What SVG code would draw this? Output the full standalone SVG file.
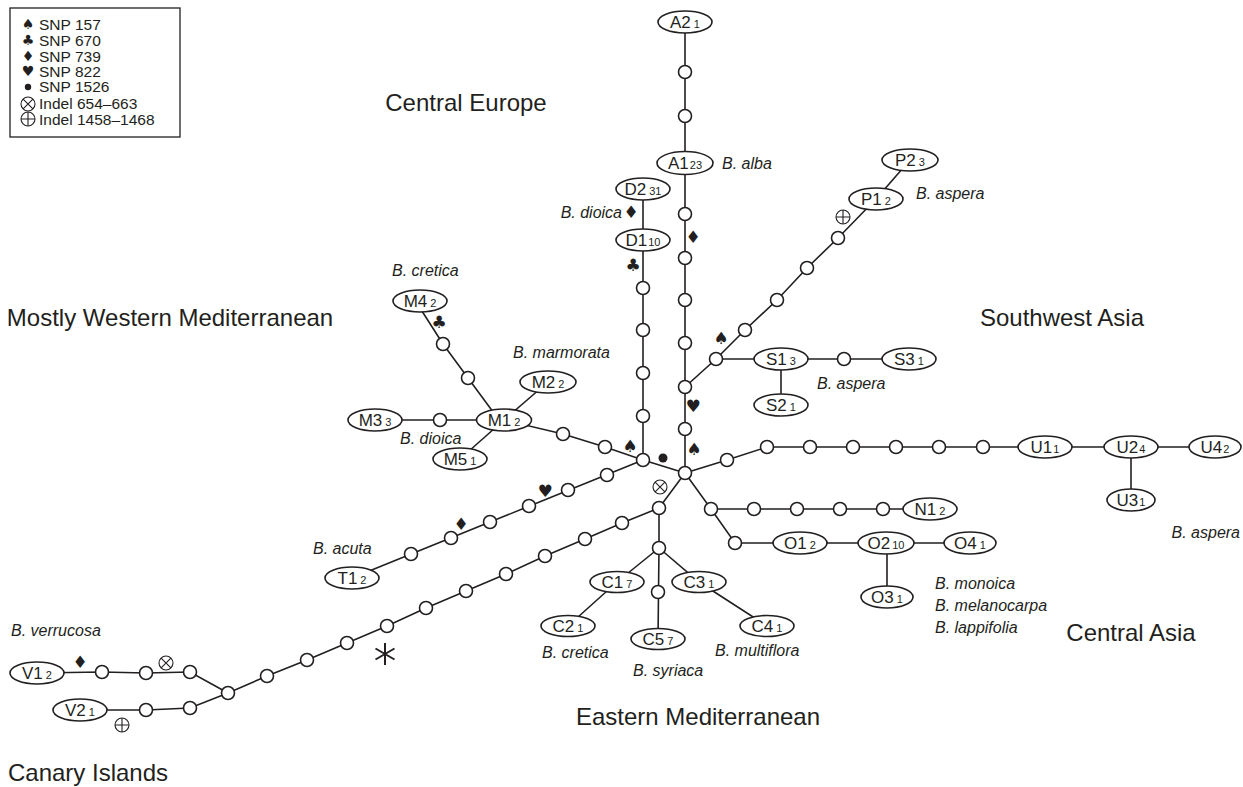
<svg xmlns="http://www.w3.org/2000/svg" xmlns:xlink="http://www.w3.org/1999/xlink" width="1243" height="787" viewBox="0 0 1243 787">
<style>
.ln{stroke:#231f20;stroke-width:1.6;fill:none}
.el{fill:#fff;stroke:#231f20;stroke-width:1.6}
.c{fill:#fff;stroke:#231f20;stroke-width:1.6}
.lbl{font-family:"Liberation Sans",Arial,sans-serif;font-size:17px;fill:#231f20;text-anchor:middle}
.cnt{font-size:11px}
.sp{font-family:"Liberation Sans",Arial,sans-serif;font-style:italic;font-size:16px;fill:#231f20}
.reg{font-family:"Liberation Sans",Arial,sans-serif;font-size:24px;fill:#231f20;text-anchor:middle}
.sym{font-family:"DejaVu Sans",sans-serif;font-size:17px;fill:#231f20;text-anchor:middle}
.lsym{font-family:"DejaVu Sans",sans-serif;font-size:14px;fill:#231f20;text-anchor:middle}
.leg{font-family:"Liberation Sans",Arial,sans-serif;font-size:15.5px;fill:#231f20}
.ind{fill:#fff;stroke:#231f20;stroke-width:1.1}
.ast{stroke:#231f20;stroke-width:2;fill:none}
</style>
<defs>
<circle id="sc" r="6.5" class="c"/>
<g id="ot"><circle r="7" class="ind"/><path d="M-4.9,-4.9L4.9,4.9M-4.9,4.9L4.9,-4.9" class="ind"/></g>
<g id="op"><circle r="7" class="ind"/><path d="M-7,0H7M0,-7V7" class="ind"/></g>
</defs>
<rect width="1243" height="787" fill="#fff"/>

<g id="legend">
<rect x="10" y="8" width="170" height="129" fill="#fff" stroke="#231f20" stroke-width="1.3"/>
<text class="lsym" x="28" y="29">♠</text>
<text class="lsym" x="28" y="45">♣</text>
<text class="lsym" x="28" y="61">♦</text>
<text class="lsym" x="28" y="76">♥</text>
<circle cx="28" cy="87" r="3.2" fill="#231f20"/>
<use xlink:href="#ot" x="28" y="104"/>
<use xlink:href="#op" x="28" y="119"/>
<text class="leg" x="39" y="30">SNP 157</text>
<text class="leg" x="39" y="46">SNP 670</text>
<text class="leg" x="39" y="62">SNP 739</text>
<text class="leg" x="39" y="77">SNP 822</text>
<text class="leg" x="39" y="92">SNP 1526</text>
<text class="leg" x="39" y="109">Indel 654–663</text>
<text class="leg" x="39" y="125">Indel 1458–1468</text>
</g>

<g id="regions">
<text class="reg" x="466" y="111">Central Europe</text>
<text class="reg" x="170" y="326">Mostly Western Mediterranean</text>
<text class="reg" x="1062" y="326">Southwest Asia</text>
<text class="reg" x="1131" y="641">Central Asia</text>
<text class="reg" x="698" y="725">Eastern Mediterranean</text>
<text class="reg" x="88" y="781">Canary Islands</text>
</g>

<g id="connectors">
<polyline class="ln" points="685,22 685,473"/>
<polyline class="ln" points="643,189 643,460"/>
<polyline class="ln" points="643,460 685,473"/>
<polyline class="ln" points="643,460 605,447 563,434 504,420"/>
<polyline class="ln" points="504,420 548,382"/>
<polyline class="ln" points="504,420 440,420 375,420"/>
<polyline class="ln" points="504,420 460,459"/>
<polyline class="ln" points="420,308 443,344 468,378 499,420"/>
<polyline class="ln" points="685,387 716,359 781,359 844,359 909,359"/>
<polyline class="ln" points="781,359 781,405"/>
<polyline class="ln" points="716,359 745,330 777,300 807,268 838,238 876,199"/>
<polyline class="ln" points="876,199 910,160"/>
<polyline class="ln" points="685,473 727,460 767,447 1215,447"/>
<polyline class="ln" points="1131,447 1131,500"/>
<polyline class="ln" points="685,473 711,509 930,509"/>
<polyline class="ln" points="711,509 735,543 970,543"/>
<polyline class="ln" points="887,543 887,597"/>
<polyline class="ln" points="685,473 659,508 659,548 658,639"/>
<polyline class="ln" points="659,548 617,582 568,626"/>
<polyline class="ln" points="659,548 699,582 767,626"/>
<polyline class="ln" points="659,508 622,523 585,539 545,556 506,574 466,591 426,608 387,626 347,643 307,660 267,676 228,693"/>
<polyline class="ln" points="643,460 352,578"/>
<polyline class="ln" points="228,693 190,672 146,673 102,672 37,673"/>
<polyline class="ln" points="228,693 190,708 146,710 80,710"/>
</g>

<g id="median-vectors">
<use id="a_m1" xlink:href="#sc" x="685" y="72"/>
<use id="a_m2" xlink:href="#sc" x="685" y="116"/>
<use id="a_m3" xlink:href="#sc" x="685" y="214"/>
<use id="a_m4" xlink:href="#sc" x="685" y="258"/>
<use id="a_m5" xlink:href="#sc" x="685" y="300"/>
<use id="a_m6" xlink:href="#sc" x="685" y="343"/>
<use id="a_m7" xlink:href="#sc" x="685" y="387"/>
<use id="a_m8" xlink:href="#sc" x="685" y="429"/>
<use id="center" xlink:href="#sc" x="685" y="473"/>
<use id="d_m1" xlink:href="#sc" x="643" y="288"/>
<use id="d_m2" xlink:href="#sc" x="643" y="330"/>
<use id="d_m3" xlink:href="#sc" x="643" y="373"/>
<use id="d_m4" xlink:href="#sc" x="643" y="416"/>
<use id="j2" xlink:href="#sc" x="643" y="460"/>
<use id="m_m1" xlink:href="#sc" x="605" y="447"/>
<use id="m_m2" xlink:href="#sc" x="563" y="434"/>
<use id="m_m3" xlink:href="#sc" x="440" y="420"/>
<use id="m_m4" xlink:href="#sc" x="443" y="344"/>
<use id="m_m5" xlink:href="#sc" x="468" y="378"/>
<use id="s_m1" xlink:href="#sc" x="716" y="359"/>
<use id="s_m2" xlink:href="#sc" x="844" y="359"/>
<use id="p_m1" xlink:href="#sc" x="745" y="330"/>
<use id="p_m2" xlink:href="#sc" x="777" y="300"/>
<use id="p_m3" xlink:href="#sc" x="807" y="268"/>
<use id="p_m4" xlink:href="#sc" x="838" y="238"/>
<use id="u_m1" xlink:href="#sc" x="727" y="460"/>
<use id="u_m2" xlink:href="#sc" x="767" y="447"/>
<use id="u_m3" xlink:href="#sc" x="810" y="447"/>
<use id="u_m4" xlink:href="#sc" x="853" y="447"/>
<use id="u_m5" xlink:href="#sc" x="896" y="447"/>
<use id="u_m6" xlink:href="#sc" x="939" y="447"/>
<use id="u_m7" xlink:href="#sc" x="983" y="447"/>
<use id="n_m1" xlink:href="#sc" x="711" y="509"/>
<use id="n_m2" xlink:href="#sc" x="754" y="509"/>
<use id="n_m3" xlink:href="#sc" x="797" y="509"/>
<use id="n_m4" xlink:href="#sc" x="840" y="509"/>
<use id="n_m5" xlink:href="#sc" x="883" y="509"/>
<use id="o_m1" xlink:href="#sc" x="735" y="543"/>
<use id="c_m1" xlink:href="#sc" x="659" y="508"/>
<use id="c_m2" xlink:href="#sc" x="659" y="548"/>
<use id="c_m3" xlink:href="#sc" x="658" y="592"/>
<use id="l_m1" xlink:href="#sc" x="622" y="523"/>
<use id="l_m2" xlink:href="#sc" x="585" y="539"/>
<use id="l_m3" xlink:href="#sc" x="545" y="556"/>
<use id="l_m4" xlink:href="#sc" x="506" y="574"/>
<use id="l_m5" xlink:href="#sc" x="466" y="591"/>
<use id="l_m6" xlink:href="#sc" x="426" y="608"/>
<use id="l_m7" xlink:href="#sc" x="387" y="626"/>
<use id="l_m8" xlink:href="#sc" x="347" y="643"/>
<use id="l_m9" xlink:href="#sc" x="307" y="660"/>
<use id="l_m10" xlink:href="#sc" x="267" y="676"/>
<use id="l_m11" xlink:href="#sc" x="228" y="693"/>
<use id="t_m1" xlink:href="#sc" x="607" y="475"/>
<use id="t_m2" xlink:href="#sc" x="568" y="490"/>
<use id="t_m3" xlink:href="#sc" x="529" y="506"/>
<use id="t_m4" xlink:href="#sc" x="490" y="522"/>
<use id="t_m5" xlink:href="#sc" x="451" y="538"/>
<use id="t_m6" xlink:href="#sc" x="411" y="554"/>
<use id="v_m1" xlink:href="#sc" x="190" y="672"/>
<use id="v_m2" xlink:href="#sc" x="146" y="673"/>
<use id="v_m3" xlink:href="#sc" x="102" y="672"/>
<use id="v_m4" xlink:href="#sc" x="146" y="710"/>
<use id="v_m5" xlink:href="#sc" x="190" y="708"/>
</g>

<g id="A2"><ellipse class="el" cx="685" cy="22" rx="27" ry="11"/><text class="lbl" x="685" y="28">A2<tspan class="cnt" dx="3">1</tspan></text></g>
<g id="A1"><ellipse class="el" cx="685" cy="163" rx="28" ry="11.5"/><text class="lbl" x="685" y="169">A1<tspan class="cnt" dx="1">23</tspan></text></g>
<g id="D2"><ellipse class="el" cx="643" cy="189" rx="27" ry="11"/><text class="lbl" x="643" y="195">D2<tspan class="cnt" dx="3">31</tspan></text></g>
<g id="D1"><ellipse class="el" cx="643" cy="240" rx="27" ry="11"/><text class="lbl" x="643" y="246">D1<tspan class="cnt" dx="1">10</tspan></text></g>
<g id="P1"><ellipse class="el" cx="876" cy="199" rx="27" ry="11"/><text class="lbl" x="876" y="205">P1<tspan class="cnt" dx="3">2</tspan></text></g>
<g id="P2"><ellipse class="el" cx="910" cy="160" rx="28" ry="11"/><text class="lbl" x="910" y="166">P2<tspan class="cnt" dx="3">3</tspan></text></g>
<g id="M4"><ellipse class="el" cx="420" cy="301" rx="27" ry="11"/><text class="lbl" x="420" y="307">M4<tspan class="cnt" dx="3">2</tspan></text></g>
<g id="M2"><ellipse class="el" cx="548" cy="382" rx="28" ry="11"/><text class="lbl" x="548" y="388">M2<tspan class="cnt" dx="3">2</tspan></text></g>
<g id="M3"><ellipse class="el" cx="375" cy="420" rx="27" ry="11"/><text class="lbl" x="375" y="426">M3<tspan class="cnt" dx="3">3</tspan></text></g>
<g id="M1"><ellipse class="el" cx="504" cy="420" rx="27.5" ry="11"/><text class="lbl" x="504" y="426">M1<tspan class="cnt" dx="3">2</tspan></text></g>
<g id="M5"><ellipse class="el" cx="460" cy="459" rx="27" ry="11"/><text class="lbl" x="460" y="465">M5<tspan class="cnt" dx="3">1</tspan></text></g>
<g id="S1"><ellipse class="el" cx="781" cy="359" rx="27" ry="11"/><text class="lbl" x="781" y="365">S1<tspan class="cnt" dx="3">3</tspan></text></g>
<g id="S3"><ellipse class="el" cx="909" cy="359" rx="27" ry="11"/><text class="lbl" x="909" y="365">S3<tspan class="cnt" dx="3">1</tspan></text></g>
<g id="S2"><ellipse class="el" cx="781" cy="405" rx="27" ry="11"/><text class="lbl" x="781" y="411">S2<tspan class="cnt" dx="3">1</tspan></text></g>
<g id="U1"><ellipse class="el" cx="1045" cy="447" rx="27" ry="11"/><text class="lbl" x="1045" y="453">U1<tspan class="cnt" dx="1">1</tspan></text></g>
<g id="U2"><ellipse class="el" cx="1131" cy="447" rx="27" ry="11"/><text class="lbl" x="1131" y="453">U2<tspan class="cnt" dx="1">4</tspan></text></g>
<g id="U4"><ellipse class="el" cx="1215" cy="447" rx="26" ry="11"/><text class="lbl" x="1215" y="453">U4<tspan class="cnt" dx="1">2</tspan></text></g>
<g id="U3"><ellipse class="el" cx="1131" cy="500" rx="24" ry="11"/><text class="lbl" x="1131" y="506">U3<tspan class="cnt" dx="1">1</tspan></text></g>
<g id="N1"><ellipse class="el" cx="930" cy="509" rx="27" ry="11"/><text class="lbl" x="930" y="515">N1<tspan class="cnt" dx="3">2</tspan></text></g>
<g id="O1"><ellipse class="el" cx="800" cy="543" rx="27" ry="11"/><text class="lbl" x="800" y="549">O1<tspan class="cnt" dx="3">2</tspan></text></g>
<g id="O2"><ellipse class="el" cx="886" cy="543" rx="28" ry="11"/><text class="lbl" x="886" y="549">O2<tspan class="cnt" dx="2">10</tspan></text></g>
<g id="O4"><ellipse class="el" cx="970" cy="543" rx="26" ry="11"/><text class="lbl" x="970" y="549">O4<tspan class="cnt" dx="3">1</tspan></text></g>
<g id="O3"><ellipse class="el" cx="887" cy="597" rx="26" ry="11"/><text class="lbl" x="887" y="603">O3<tspan class="cnt" dx="3">1</tspan></text></g>
<g id="T1"><ellipse class="el" cx="352" cy="578" rx="27" ry="11"/><text class="lbl" x="352" y="584">T1<tspan class="cnt" dx="3">2</tspan></text></g>
<g id="C1"><ellipse class="el" cx="617" cy="582" rx="27" ry="10.5"/><text class="lbl" x="617" y="588">C1<tspan class="cnt" dx="3">7</tspan></text></g>
<g id="C3"><ellipse class="el" cx="699" cy="582" rx="27" ry="10.5"/><text class="lbl" x="699" y="588">C3<tspan class="cnt" dx="3">1</tspan></text></g>
<g id="C2"><ellipse class="el" cx="568" cy="626" rx="27" ry="10.5"/><text class="lbl" x="568" y="632">C2<tspan class="cnt" dx="3">1</tspan></text></g>
<g id="C4"><ellipse class="el" cx="767" cy="626" rx="27" ry="10.5"/><text class="lbl" x="767" y="632">C4<tspan class="cnt" dx="3">1</tspan></text></g>
<g id="C5"><ellipse class="el" cx="658" cy="639" rx="27" ry="10.5"/><text class="lbl" x="658" y="645">C5<tspan class="cnt" dx="3">7</tspan></text></g>
<g id="V1"><ellipse class="el" cx="37" cy="673" rx="27" ry="11"/><text class="lbl" x="37" y="679">V1<tspan class="cnt" dx="3">2</tspan></text></g>
<g id="V2"><ellipse class="el" cx="80" cy="710" rx="27" ry="11"/><text class="lbl" x="80" y="716">V2<tspan class="cnt" dx="3">1</tspan></text></g>

<g id="mutations">
<text class="sym" x="693" y="243">♦</text>
<text class="sym" x="693" y="412">♥</text>
<text class="sym" x="694" y="455">♠</text>
<text class="sym" x="630" y="452">♠</text>
<circle cx="663" cy="458" r="4.5" fill="#231f20"/>
<use xlink:href="#ot" x="660" y="487"/>
<text class="sym" x="631" y="218">♦</text>
<text class="sym" x="633" y="271">♣</text>
<text class="sym" x="439" y="328">♣</text>
<text class="sym" x="721" y="344">♠</text>
<use xlink:href="#op" x="843" y="217"/>
<text class="sym" x="545" y="497">♥</text>
<text class="sym" x="461" y="530">♦</text>
<g class="ast"><path d="M385,643V665M375.5,648.5L394.5,659.5M375.5,659.5L394.5,648.5"/></g>
<text class="sym" x="80" y="668">♦</text>
<use xlink:href="#ot" x="166" y="663"/>
<use xlink:href="#op" x="122" y="725"/>
</g>

<g id="species">
<text class="sp" x="722" y="169">B. alba</text>
<text class="sp" x="622" y="218" text-anchor="end">B. dioica</text>
<text class="sp" x="916" y="199">B. aspera</text>
<text class="sp" x="392" y="276">B. cretica</text>
<text class="sp" x="513" y="358">B. marmorata</text>
<text class="sp" x="400" y="444">B. dioica</text>
<text class="sp" x="817" y="389">B. aspera</text>
<text class="sp" x="1240" y="538" text-anchor="end">B. aspera</text>
<text class="sp" x="313" y="554">B. acuta</text>
<text class="sp" x="935" y="589">B. monoica</text>
<text class="sp" x="935" y="611">B. melanocarpa</text>
<text class="sp" x="935" y="633">B. lappifolia</text>
<text class="sp" x="542" y="658">B. cretica</text>
<text class="sp" x="633" y="676">B. syriaca</text>
<text class="sp" x="715" y="656">B. multiflora</text>
<text class="sp" x="11" y="636">B. verrucosa</text>
</g>
</svg>
